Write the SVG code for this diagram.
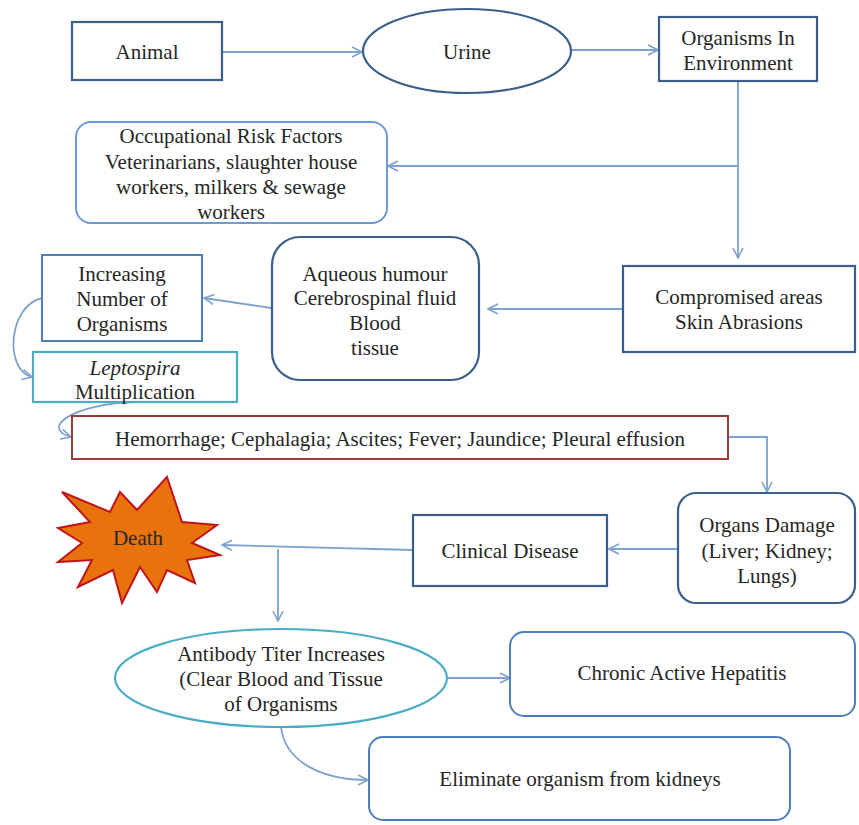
<svg xmlns="http://www.w3.org/2000/svg" width="859" height="825" viewBox="0 0 859 825">
<defs>
<style>
text{font-family:"Liberation Serif","Times New Roman",serif;font-size:21px;fill:#262626;text-anchor:middle}
.dk{fill:#fff;stroke:#3b5f8c;stroke-width:2.2}
.md{fill:#fff;stroke:#4f7fba;stroke-width:2}
.lt{fill:#fff;stroke:#6b9ad6;stroke-width:2}
.tl{fill:#fff;stroke:#4bacc6;stroke-width:2.2}
.rd{fill:#fff;stroke:#9b3a3a;stroke-width:2}
.cn{fill:none;stroke:#7ea2cd;stroke-width:1.8}
</style>
<marker id="ah" viewBox="0 0 12 12" refX="11" refY="6" markerWidth="12" markerHeight="12" markerUnits="userSpaceOnUse" orient="auto">
<path d="M1,1 L11,6 L1,11" fill="none" stroke="#7ea2cd" stroke-width="1.6"/>
</marker>
</defs>
<rect width="859" height="825" fill="#fff"/>

<g id="connectors">
<line class="cn" x1="222" y1="52" x2="362" y2="52" marker-end="url(#ah)"/>
<line class="cn" x1="572" y1="50" x2="658" y2="50" marker-end="url(#ah)"/>
<line class="cn" x1="738" y1="81" x2="738" y2="258" marker-end="url(#ah)"/>
<line class="cn" x1="738" y1="166" x2="388" y2="166" marker-end="url(#ah)"/>
<line class="cn" x1="623" y1="309" x2="488" y2="309" marker-end="url(#ah)"/>
<line class="cn" x1="271" y1="308" x2="204" y2="298" marker-end="url(#ah)"/>
<path class="cn" d="M42,298 C8,306 4,370 32,377" marker-end="url(#ah)"/>
<path class="cn" d="M135,402 C72,404 40,428 71,437" marker-end="url(#ah)"/>
<polyline class="cn" points="728,437 767,437 767,492" marker-end="url(#ah)"/>
<line class="cn" x1="678" y1="549" x2="609" y2="549" marker-end="url(#ah)"/>
<line class="cn" x1="413" y1="550" x2="222" y2="545" marker-end="url(#ah)"/>
<line class="cn" x1="278" y1="549" x2="278" y2="621" marker-end="url(#ah)"/>
<line class="cn" x1="447" y1="678" x2="510" y2="678" marker-end="url(#ah)"/>
<path class="cn" d="M281,727 C285,762 322,780 368,780" marker-end="url(#ah)"/>
</g>

<g id="animal">
<rect class="dk" x="72" y="22" width="150" height="58" stroke-width="2.6"/>
<text x="147" y="59">Animal</text>
</g>
<g id="urine">
<ellipse class="dk" cx="467" cy="51" rx="104" ry="42"/>
<text x="467" y="59">Urine</text>
</g>
<g id="organisms-env">
<rect class="dk" x="659" y="17" width="158" height="64"/>
<text x="738" y="45">Organisms In</text>
<text x="738" y="70">Environment</text>
</g>
<g id="occupational">
<rect class="lt" x="76" y="122" width="311" height="101" rx="15"/>
<text x="231" y="143">Occupational Risk Factors</text>
<text x="231" y="169">Veterinarians, slaughter house</text>
<text x="231" y="194">workers, milkers &amp; sewage</text>
<text x="231" y="219">workers</text>
</g>
<g id="compromised">
<rect class="dk" x="623" y="266" width="232" height="86"/>
<text x="739" y="304">Compromised areas</text>
<text x="739" y="329">Skin Abrasions</text>
</g>
<g id="aqueous">
<rect class="dk" x="272" y="237" width="207" height="143" rx="28"/>
<text x="375" y="281">Aqueous humour</text>
<text x="375" y="305">Cerebrospinal fluid</text>
<text x="375" y="330">Blood</text>
<text x="375" y="355">tissue</text>
</g>
<g id="increasing">
<rect class="md" x="42" y="255" width="160" height="86"/>
<text x="122" y="281">Increasing</text>
<text x="122" y="306">Number of</text>
<text x="122" y="331">Organisms</text>
</g>
<g id="leptospira">
<rect class="tl" x="33" y="352" width="204" height="50"/>
<text x="135" y="375" font-style="italic">Leptospira</text>
<text x="135" y="399">Multiplication</text>
</g>
<g id="hemorrhage">
<rect class="rd" x="72" y="416" width="656" height="43"/>
<text x="400" y="446">Hemorrhage; Cephalagia; Ascites; Fever; Jaundice; Pleural effusion</text>
</g>
<g id="organs">
<rect class="dk" x="678" y="493" width="177" height="110" rx="18"/>
<text x="767" y="532">Organs Damage</text>
<text x="767" y="558">(Liver; Kidney;</text>
<text x="767" y="583">Lungs)</text>
</g>
<g id="clinical">
<rect class="dk" x="413" y="515" width="194" height="71"/>
<text x="510" y="558">Clinical Disease</text>
</g>
<g id="death">
<polygon points="167,477 182,522 217,525 192,543 220,555 187,560 195,583 167,570 157,592 140,567 122,603 113,570 78,587 92,560 58,562 82,543 58,528 90,522 62,492 110,512 120,492 137,510" fill="#e8730c" stroke="#c0141c" stroke-width="2" stroke-linejoin="miter"/>
<text x="138" y="545" fill="#2a1a10">Death</text>
</g>
<g id="antibody">
<ellipse class="tl" cx="281" cy="678" rx="166" ry="49"/>
<text x="281" y="661">Antibody Titer Increases</text>
<text x="281" y="686">(Clear Blood and Tissue</text>
<text x="281" y="711">of Organisms</text>
</g>
<g id="chronic">
<rect class="md" x="510" y="632" width="345" height="84" rx="14"/>
<text x="682" y="680">Chronic Active Hepatitis</text>
</g>
<g id="eliminate">
<rect class="md" x="369" y="737" width="421" height="83" rx="14"/>
<text x="580" y="786">Eliminate organism from kidneys</text>
</g>
</svg>
